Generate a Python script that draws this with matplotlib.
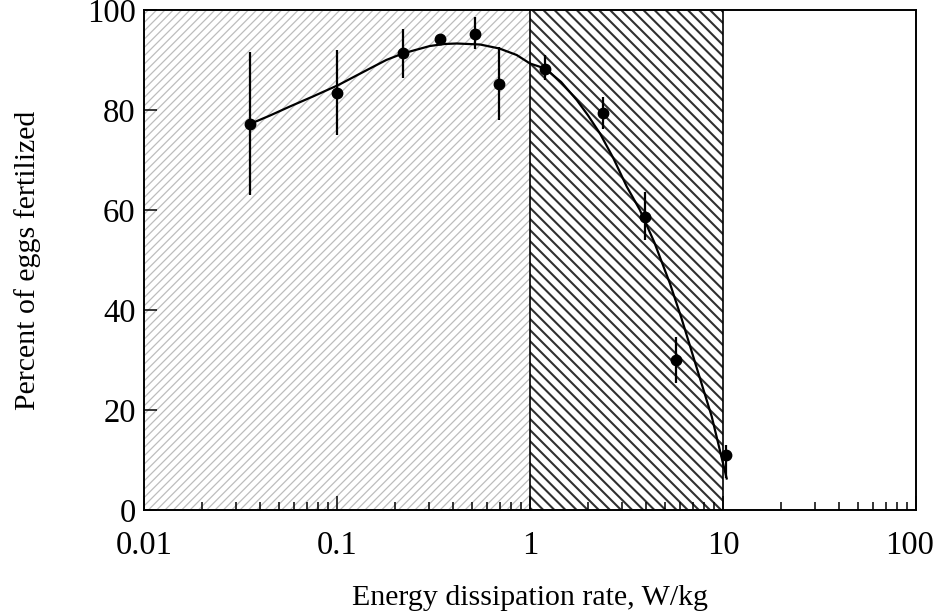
import numpy as np
import matplotlib.pyplot as plt
import matplotlib.transforms as mtransforms
from matplotlib.ticker import FixedLocator, FixedFormatter, LogLocator, NullFormatter

plt.rcParams['font.family'] = ['Liberation Serif', 'DejaVu Serif']

# measured points (energy dissipation rate, percent fertilized)
rate = [0.0354, 0.10, 0.219, 0.342, 0.521, 0.694, 1.196, 2.40, 3.95, 5.70, 10.33]
pct = [77.2, 83.5, 91.5, 94.2, 95.3, 85.3, 88.3, 79.5, 58.7, 30.0, 11.1]
err_lo = [14.2, 8.5, 5.0, 0.0, 3.0, 7.2, 2.3, 3.2, 4.7, 4.6, 4.7]
err_hi = [14.5, 8.5, 4.8, 0.0, 3.4, 7.4, 2.7, 3.2, 5.0, 4.6, 1.9]

# fitted curve
curve_x = [0.0354, 0.045, 0.057, 0.075, 0.1017, 0.148, 0.18, 0.219, 0.303, 0.36, 0.417,
           0.551, 0.694, 0.853, 1.0, 1.196, 1.45, 1.746, 2.0, 2.305, 2.7, 3.17, 3.71,
           4.4, 5.31, 6.1, 7.01, 8.74, 10.45]
curve_y = [77.2, 78.9, 80.7, 82.7, 85.0, 88.3, 90.0, 91.3, 92.8, 93.2, 93.3,
           93.1, 92.3, 91.0, 89.3, 88.3, 85.6, 82.0, 78.9, 75.3, 70.4, 64.7, 60.0,
           53.6, 45.3, 38.3, 30.7, 18.7, 6.3]

# shaded zones
light_zone = (0.01, 1)
dark_zone = (1, 10)

xticks = [0.01, 0.1, 1, 10, 100]
xtick_labels = ['0.01', '0.1', '1', '10', '100']
yticks = [0, 20, 40, 60, 80, 100]

fig = plt.figure(figsize=(9.39, 6.15), dpi=100)
ax = fig.add_axes([144 / 939, 1 - 510 / 615, (916 - 144) / 939, 500 / 615])
ax.set_xscale('log')
ax.set_xlim(0.01, 100)
ax.set_ylim(0, 100)

p1 = ax.axvspan(*light_zone, facecolor='white', edgecolor='#bdbdbd', hatch='////', lw=0, zorder=0)
p2 = ax.axvspan(*dark_zone, facecolor='white', edgecolor='#303030', hatch='\\\\\\', lw=0, zorder=0)
if hasattr(p1, 'set_hatch_linewidth'):
    p1.set_hatch_linewidth(0.9)
    p2.set_hatch_linewidth(1.5)
for xv in (dark_zone[0], dark_zone[1]):
    ax.axvline(xv, color='black', lw=1.2, zorder=1)

ax.plot(curve_x, curve_y, color='black', lw=1.6, zorder=3)
ax.errorbar(rate, pct, yerr=[err_lo, err_hi], fmt='o', color='black', ms=7.5,
            elinewidth=1.6, capsize=0, zorder=4)

for s in ax.spines.values():
    s.set_linewidth(1.4)

ax.xaxis.set_major_locator(FixedLocator(xticks))
ax.xaxis.set_major_formatter(FixedFormatter(xtick_labels))
ax.xaxis.set_minor_locator(LogLocator(base=10, subs=np.arange(2, 10)))
ax.xaxis.set_minor_formatter(NullFormatter())
ax.set_yticks(yticks)

ax.tick_params(axis='x', which='major', direction='in', length=10, width=1.1,
               labelsize=23.5, pad=15, top=False)
ax.tick_params(axis='x', which='minor', direction='in', length=6, width=1.1, top=False)
ax.tick_params(axis='y', direction='in', length=9, width=1.1, labelsize=23.5, pad=6, right=False)

# keep the "100" label inside the figure, as in the original
fig.canvas.draw()
last = ax.xaxis.get_major_ticks()[-1].label1
last.set_transform(last.get_transform() +
                   mtransforms.ScaledTranslation(-6 / 100, 0, fig.dpi_scale_trans))

ax.set_xlabel('Energy dissipation rate, W/kg', fontsize=21.5, labelpad=17)
ax.set_ylabel('Percent of eggs fertilized', fontsize=21.5, labelpad=33)

fig.savefig('out.png', dpi=100)
